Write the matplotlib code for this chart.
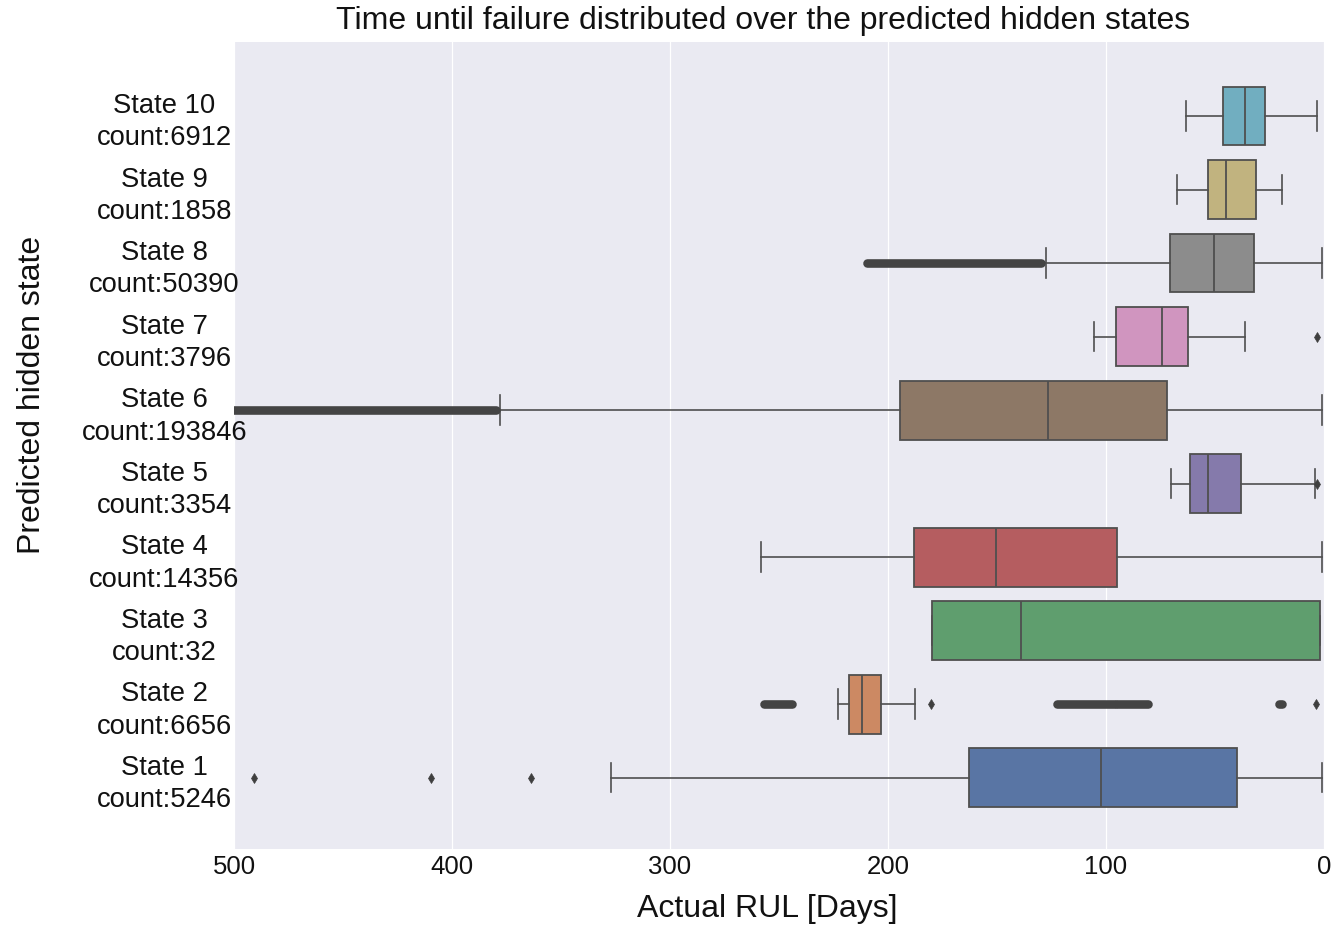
import colorsys
import numpy as np
import matplotlib
matplotlib.use("Agg")
import matplotlib.pyplot as plt
from matplotlib.colors import to_rgb

# ---------------- data ----------------
states = ["State 10", "State 9", "State 8", "State 7", "State 6",
          "State 5", "State 4", "State 3", "State 2", "State 1"]
counts = [6912, 1858, 50390, 3796, 193846, 3354, 14356, 32, 6656, 5246]

# RUL in days (axis is inverted: 500 on the left, 0 on the right)
whisker_low = [3.3, 19.1, 1.0, 36.1, 1.0, 4.0, 1.0, 2.0, 187.7, 1.0]
q1_values = [27.0, 31.0, 32.1, 62.2, 72.0, 38.2, 95.1, 2.0, 203.3, 40.0]
medians = [36.1, 45.1, 50.4, 74.3, 126.6, 53.3, 150.5, 138.8, 211.8, 102.4]
q3_values = [46.2, 53.3, 70.5, 95.3, 194.7, 61.5, 187.9, 179.8, 217.8, 162.7]
whisker_high = [63.2, 67.4, 127.6, 105.6, 377.8, 70.3, 258.1, 179.8, 222.8, 327.2]

# isolated outliers per state
single_outliers = [[], [], [], [3.3], [], [3.0], [], [], [180.2, 3.7],
                   [490.7, 409.8, 363.6]]
# dense runs of outliers (drawn as continuous bands) per state: (from, to)
outlier_runs = [[], [], [(129.7, 209.8)], [], [(379.8, 560.0)], [], [], [],
                [(244.0, 257.0), (96.0, 122.5), (80.7, 95.0), (19.4, 20.7)], []]

palette_deep = ["#4C72B0", "#DD8452", "#55A868", "#C44E52", "#8172B3",
                "#937860", "#DA8BC3", "#8C8C8C", "#CCB974", "#64B5CD"]

title = "Time until failure distributed over the predicted hidden states"
xlabel = "Actual RUL [Days]"
ylabel = "Predicted hidden state"
xticks = [500, 400, 300, 200, 100, 0]


def desaturate(color, prop):
    h, l, s = colorsys.rgb_to_hls(*to_rgb(color))
    return colorsys.hls_to_rgb(h, l, s * prop)


# palette order goes State 1 .. State 10; states list is State 10 .. State 1
colors = [desaturate(palette_deep[int(s.split()[1]) - 1], 0.75) for s in states]

plt.rcParams["font.family"] = ["Liberation Sans", "DejaVu Sans"]

fig = plt.figure(figsize=(13.37, 9.30), dpi=100)
ax = fig.add_axes([234 / 1337, 1 - 849 / 930, 1090 / 1337, 807 / 930])
ax.set_facecolor("#EAEAF2")
for sp in ax.spines.values():
    sp.set_visible(False)

line_col = "#4f4f4f"
stats = []
for i, s in enumerate(states):
    stats.append(dict(med=medians[i], q1=q1_values[i], q3=q3_values[i],
                      whislo=whisker_low[i], whishi=whisker_high[i],
                      fliers=single_outliers[i], label=s))

positions = np.arange(len(states))
common = dict(positions=positions, widths=0.8, patch_artist=True,
              showfliers=True, manage_ticks=False,
              boxprops=dict(edgecolor=line_col, linewidth=1.3),
              medianprops=dict(color=line_col, linewidth=1.3),
              whiskerprops=dict(color=line_col, linewidth=1.2),
              capprops=dict(color=line_col, linewidth=1.2),
              flierprops=dict(marker="d", markersize=5.5,
                              markerfacecolor="#3f3f3f",
                              markeredgecolor="#3f3f3f",
                              markeredgewidth=0.5))
try:
    bp = ax.bxp(stats, orientation="horizontal", **common)
except TypeError:
    bp = ax.bxp(stats, vert=False, **common)

for patch, c in zip(bp["boxes"], colors):
    patch.set_facecolor(c)

for i, runs in enumerate(outlier_runs):
    for a, b in runs:
        ax.plot([a, b], [positions[i], positions[i]], color="#444444",
                lw=6.2, solid_capstyle="round", zorder=3)

ax.set_xlim(500, 0)
ax.set_ylim(9.97, -1.007)
ax.set_xticks(xticks)
ax.set_xticklabels([str(t) for t in xticks], fontsize=18.5, color="#111111")
for lbl in ax.get_xticklabels():
    lbl.set_x(lbl.get_position()[0])
ax.set_yticks(positions)
ax.set_yticklabels([f"{s}\ncount:{c}" for s, c in zip(states, counts)],
                   fontsize=19.7, color="#111111", ha="center",
                   multialignment="center", linespacing=1.32)
ax.tick_params(axis="y", length=0, pad=50)
ax.tick_params(axis="x", length=0, pad=4)
ax.grid(axis="x", color="white", linewidth=0.9)
ax.grid(axis="y", visible=False)
ax.set_axisbelow(True)

fig.text(763.5 / 1337, 1 - 21 / 930, title, ha="center", va="center",
         fontsize=23, color="#111111")
fig.text(767.5 / 1337, 1 - 909 / 930, xlabel, ha="center", va="center",
         fontsize=23, color="#111111")
fig.text(32 / 1337, 1 - 394.5 / 930, ylabel, ha="center", va="center",
         rotation=90, fontsize=23, color="#111111")

fig.savefig("out.png", dpi=100)
